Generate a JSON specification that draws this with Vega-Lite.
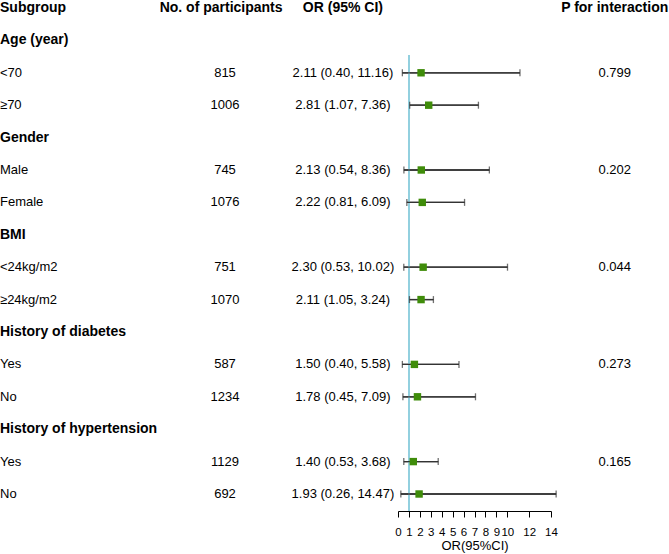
{
  "$schema": "https://vega.github.io/schema/vega-lite/v6.json",
  "padding": 0,
  "spacing": 0,
  "bounds": "flush",
  "config": {
    "view": {"stroke": null},
    "text": {"font": "Liberation Sans", "color": "#000000"},
    "axis": {"labelFont": "Liberation Sans", "titleFont": "Liberation Sans"}
  },
  "data": {
    "values": [
      {"row": 0, "kind": "header", "label": "Subgroup", "n": "No. of participants", "ortext": "OR (95% CI)", "p": "P for interaction"},
      {"row": 1, "kind": "group", "label": "Age (year)"},
      {"row": 2, "kind": "item", "label": "<70", "n": 815, "ortext": "2.11 (0.40, 11.16)", "or": 2.11, "lo": 0.40, "hi": 11.16, "p": "0.799"},
      {"row": 3, "kind": "item", "label": "≥70", "n": 1006, "ortext": "2.81 (1.07, 7.36)", "or": 2.81, "lo": 1.07, "hi": 7.36},
      {"row": 4, "kind": "group", "label": "Gender"},
      {"row": 5, "kind": "item", "label": "Male", "n": 745, "ortext": "2.13 (0.54, 8.36)", "or": 2.13, "lo": 0.54, "hi": 8.36, "p": "0.202"},
      {"row": 6, "kind": "item", "label": "Female", "n": 1076, "ortext": "2.22 (0.81, 6.09)", "or": 2.22, "lo": 0.81, "hi": 6.09},
      {"row": 7, "kind": "group", "label": "BMI"},
      {"row": 8, "kind": "item", "label": "<24kg/m2", "n": 751, "ortext": "2.30 (0.53, 10.02)", "or": 2.30, "lo": 0.53, "hi": 10.02, "p": "0.044"},
      {"row": 9, "kind": "item", "label": "≥24kg/m2", "n": 1070, "ortext": "2.11 (1.05, 3.24)", "or": 2.11, "lo": 1.05, "hi": 3.24},
      {"row": 10, "kind": "group", "label": "History of diabetes"},
      {"row": 11, "kind": "item", "label": "Yes", "n": 587, "ortext": "1.50 (0.40, 5.58)", "or": 1.50, "lo": 0.40, "hi": 5.58, "p": "0.273"},
      {"row": 12, "kind": "item", "label": "No", "n": 1234, "ortext": "1.78 (0.45, 7.09)", "or": 1.78, "lo": 0.45, "hi": 7.09},
      {"row": 13, "kind": "group", "label": "History of hypertension"},
      {"row": 14, "kind": "item", "label": "Yes", "n": 1129, "ortext": "1.40 (0.53, 3.68)", "or": 1.40, "lo": 0.53, "hi": 3.68, "p": "0.165"},
      {"row": 15, "kind": "item", "label": "No", "n": 692, "ortext": "1.93 (0.26, 14.47)", "or": 1.93, "lo": 0.26, "hi": 14.47}
    ]
  },
  "hconcat": [
    {
      "width": 160,
      "height": 509,
      "layer": [
        {
          "transform": [{"filter": "datum.kind != 'item'"}],
          "mark": {"type": "text", "align": "left", "baseline": "middle", "fontSize": 14, "fontWeight": "bold"},
          "encoding": {
            "x": {"datum": "c", "type": "nominal", "bandPosition": 0, "scale": {"type": "band", "paddingInner": 0, "paddingOuter": 0}, "axis": null},
            "y": {"field": "row", "type": "quantitative", "scale": {"domain": [-0.185, 15.525], "reverse": true, "nice": false, "zero": false}, "axis": null},
            "text": {"field": "label", "type": "nominal"}
          }
        },
        {
          "transform": [{"filter": "datum.kind == 'item'"}],
          "mark": {"type": "text", "align": "left", "baseline": "middle", "fontSize": 13},
          "encoding": {
            "x": {"datum": "c", "type": "nominal", "bandPosition": 0, "scale": {"type": "band", "paddingInner": 0, "paddingOuter": 0}, "axis": null},
            "y": {"field": "row", "type": "quantitative", "scale": {"domain": [-0.185, 15.525], "reverse": true, "nice": false, "zero": false}, "axis": null},
            "text": {"field": "label", "type": "nominal"}
          }
        }
      ]
    },
    {
      "width": 130,
      "height": 509,
      "layer": [
        {
          "transform": [{"filter": "datum.kind == 'header'"}],
          "mark": {"type": "text", "align": "center", "baseline": "middle", "fontSize": 14, "fontWeight": "bold"},
          "encoding": {
            "x": {"datum": "c", "type": "nominal", "bandPosition": 0.47, "scale": {"type": "band", "paddingInner": 0, "paddingOuter": 0}, "axis": null},
            "y": {"field": "row", "type": "quantitative", "scale": {"domain": [-0.185, 15.525], "reverse": true, "nice": false, "zero": false}, "axis": null},
            "text": {"field": "n", "type": "nominal"}
          }
        },
        {
          "transform": [{"filter": "datum.kind == 'item'"}],
          "mark": {"type": "text", "align": "center", "baseline": "middle", "fontSize": 13},
          "encoding": {
            "x": {"datum": "c", "type": "nominal", "bandPosition": 0.5, "scale": {"type": "band", "paddingInner": 0, "paddingOuter": 0}, "axis": null},
            "y": {"field": "row", "type": "quantitative", "scale": {"domain": [-0.185, 15.525], "reverse": true, "nice": false, "zero": false}, "axis": null},
            "text": {"field": "n", "type": "nominal"}
          }
        }
      ]
    },
    {
      "width": 108,
      "height": 509,
      "layer": [
        {
          "transform": [{"filter": "datum.kind == 'header'"}],
          "mark": {"type": "text", "align": "center", "baseline": "middle", "fontSize": 14, "fontWeight": "bold"},
          "encoding": {
            "x": {"datum": "c", "type": "nominal", "bandPosition": 0.49, "scale": {"type": "band", "paddingInner": 0, "paddingOuter": 0}, "axis": null},
            "y": {"field": "row", "type": "quantitative", "scale": {"domain": [-0.185, 15.525], "reverse": true, "nice": false, "zero": false}, "axis": null},
            "text": {"field": "ortext", "type": "nominal"}
          }
        },
        {
          "transform": [{"filter": "datum.kind == 'item'"}],
          "mark": {"type": "text", "align": "center", "baseline": "middle", "fontSize": 13},
          "encoding": {
            "x": {"datum": "c", "type": "nominal", "bandPosition": 0.49, "scale": {"type": "band", "paddingInner": 0, "paddingOuter": 0}, "axis": null},
            "y": {"field": "row", "type": "quantitative", "scale": {"domain": [-0.185, 15.525], "reverse": true, "nice": false, "zero": false}, "axis": null},
            "text": {"field": "ortext", "type": "nominal"}
          }
        }
      ]
    },
    {
      "width": 153,
      "height": 509,
      "layer": [
        {
          "transform": [{"filter": "datum.kind == 'item'"}],
          "mark": {"type": "rule", "color": "#333333", "strokeWidth": 1.3},
          "encoding": {
            "x": {"field": "lo", "type": "quantitative", "scale": {"domain": [0, 14], "nice": false, "zero": false}, "axis": {"values": [0, 1, 2, 3, 4, 5, 6, 7, 8, 9, 10, 12, 14], "tickCount": 20, "format": "d", "grid": false, "domainColor": "#000000", "tickColor": "#000000", "tickSize": 6, "labelFontSize": 11.5, "labelColor": "#000000", "labelFlush": false, "labelOverlap": false, "labelBound": false, "labelPadding": 9, "title": "OR(95%CI)", "titleFontSize": 13, "titleFontWeight": "normal", "titleColor": "#000000", "titlePadding": 2}},
            "x2": {"field": "hi"},
            "y": {"field": "row", "type": "quantitative", "scale": {"domain": [-0.185, 15.525], "reverse": true, "nice": false, "zero": false}, "axis": null}
          }
        },
        {
          "mark": {"type": "rule", "color": "#93d0de", "strokeWidth": 1.2},
          "encoding": {
            "x": {"datum": 1, "type": "quantitative"},
            "y": {"datum": 1.45, "type": "quantitative"},
            "y2": {"datum": 15.525}
          }
        },
        {
          "transform": [{"filter": "datum.kind == 'item'"}],
          "mark": {"type": "rule", "color": "#333333", "strokeWidth": 1.3},
          "encoding": {
            "x": {"field": "lo", "type": "quantitative"},
            "x2": {"field": "hi"},
            "y": {"field": "row", "type": "quantitative"}
          }
        },
        {
          "transform": [{"filter": "datum.kind == 'item'"}],
          "mark": {"type": "tick", "orient": "vertical", "color": "#333333", "size": 7, "thickness": 1.3},
          "encoding": {
            "x": {"field": "lo", "type": "quantitative"},
            "y": {"field": "row", "type": "quantitative"}
          }
        },
        {
          "transform": [{"filter": "datum.kind == 'item'"}],
          "mark": {"type": "tick", "orient": "vertical", "color": "#333333", "size": 7, "thickness": 1.3},
          "encoding": {
            "x": {"field": "hi", "type": "quantitative"},
            "y": {"field": "row", "type": "quantitative"}
          }
        },
        {
          "transform": [{"filter": "datum.kind == 'item'"}],
          "mark": {"type": "point", "shape": "square", "filled": true, "size": 55, "color": "#3f8c0a", "opacity": 1},
          "encoding": {
            "x": {"field": "or", "type": "quantitative"},
            "y": {"field": "row", "type": "quantitative"}
          }
        }
      ]
    },
    {
      "width": 118,
      "height": 509,
      "layer": [
        {
          "transform": [{"filter": "datum.kind == 'header'"}],
          "mark": {"type": "text", "align": "center", "baseline": "middle", "fontSize": 14, "fontWeight": "bold"},
          "encoding": {
            "x": {"datum": "c", "type": "nominal", "bandPosition": 0.54, "scale": {"type": "band", "paddingInner": 0, "paddingOuter": 0}, "axis": null},
            "y": {"field": "row", "type": "quantitative", "scale": {"domain": [-0.185, 15.525], "reverse": true, "nice": false, "zero": false}, "axis": null},
            "text": {"field": "p", "type": "nominal"}
          }
        },
        {
          "transform": [{"filter": "datum.kind == 'item' && datum.p != null"}],
          "mark": {"type": "text", "align": "center", "baseline": "middle", "fontSize": 13},
          "encoding": {
            "x": {"datum": "c", "type": "nominal", "bandPosition": 0.54, "scale": {"type": "band", "paddingInner": 0, "paddingOuter": 0}, "axis": null},
            "y": {"field": "row", "type": "quantitative", "scale": {"domain": [-0.185, 15.525], "reverse": true, "nice": false, "zero": false}, "axis": null},
            "text": {"field": "p", "type": "nominal"}
          }
        }
      ]
    }
  ]
}
